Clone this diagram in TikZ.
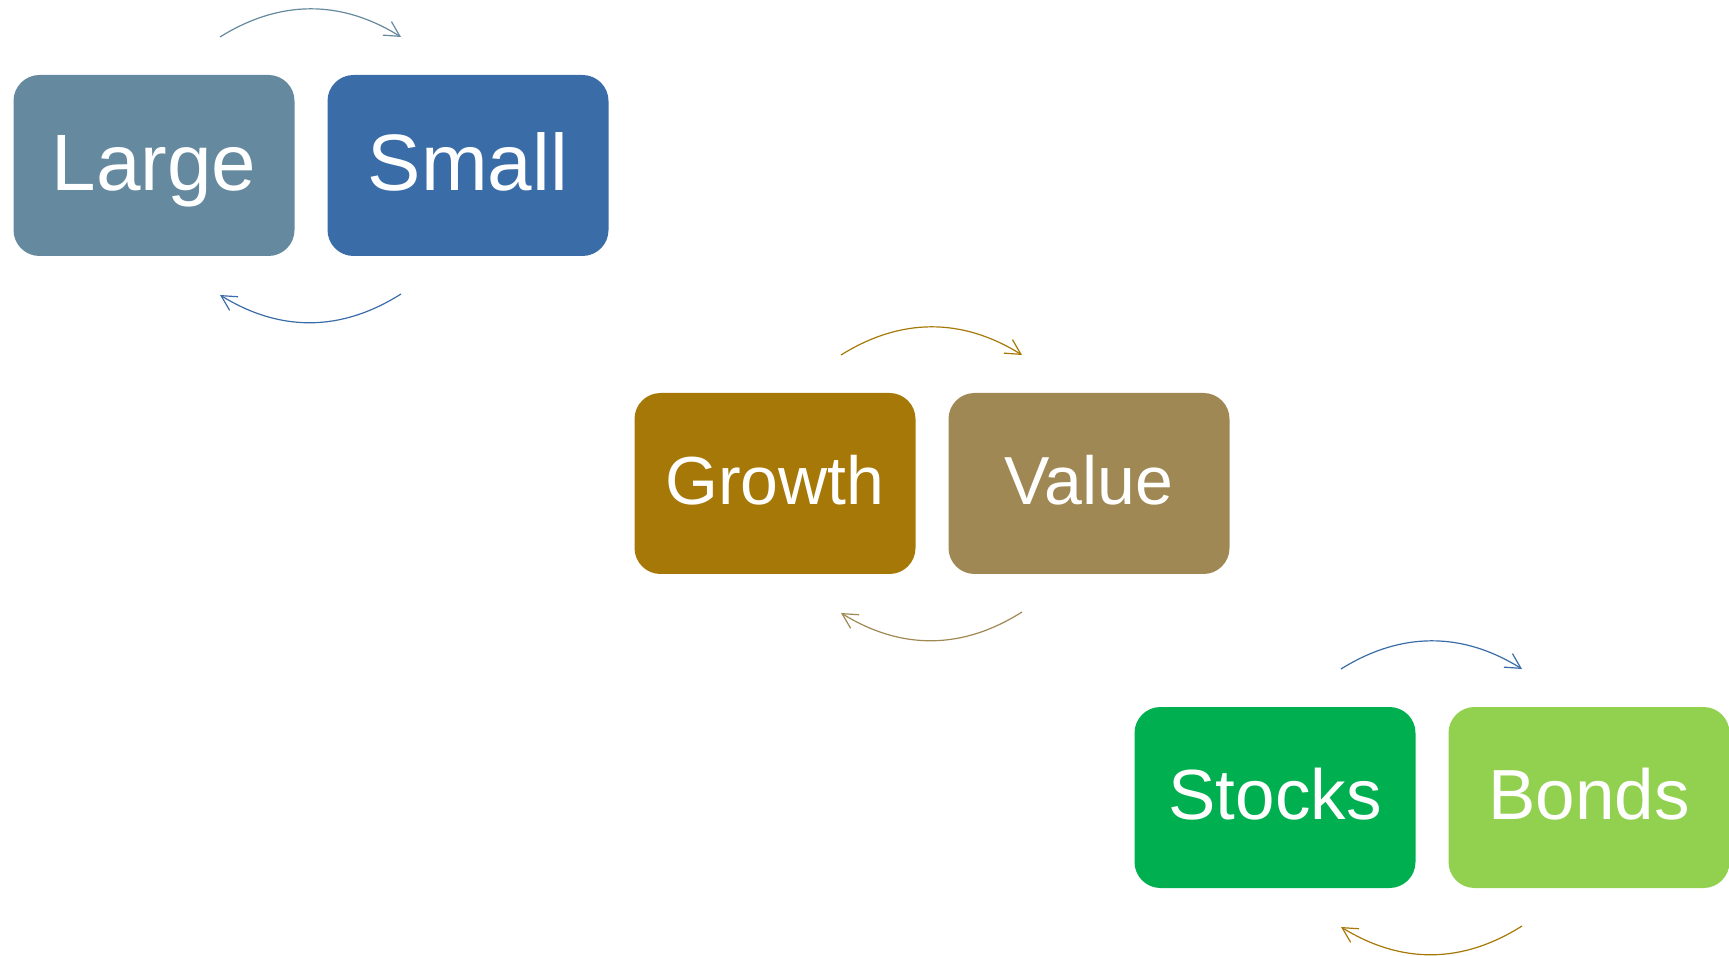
\documentclass[tikz,border=0pt]{standalone}
\usepackage{fontspec}
\setmainfont{Liberation Sans}
\usetikzlibrary{arrows.meta, positioning, shapes}

\definecolor{slate}{HTML}{65899E}
\definecolor{steel}{HTML}{3A6CA7}
\definecolor{ochre}{HTML}{A67808}
\definecolor{khaki}{HTML}{A08854}
\definecolor{leaf}{HTML}{00B050}
\definecolor{lime}{HTML}{92D050}

\begin{document}
\begin{tikzpicture}[x=0.5pt,y=0.5pt,node distance=16.5pt,line width=0.6pt,
	>={Straight Barb[length=7.5pt,width=8pt]}]

	\tikzset{node box/.style 2 args={rectangle, draw=none, rounded corners=13pt,
			minimum width=140.5pt, minimum height=90.5pt,
			inner sep=0pt, outer sep=0pt, text=white,
			font=\fontsize{#1}{#1}\selectfont,
			text height=#2, text depth=0pt}}
	\tikzset{node swap/.style={->, bend left=32}}

	\useasboundingbox (0,0) rectangle (1729,-956);

	\node[node box={40}{25pt}, fill=slate] (L) at (154,-165.5) {Large};
	\node[node box={40}{25pt}, fill=steel, right=of L] (S) {Small};
	\node[node box={34}{21.5pt}, fill=ochre] (G) at (775,-483.5) {Growth};
	\node[node box={34}{21.5pt}, fill=khaki, right=of G] (V) {Value};
	\node[node box={35.5}{22pt}, fill=leaf] (St) at (1275,-797.5) {Stocks};
	\node[node box={35.5}{22pt}, fill=lime, right=of St] (B) {Bonds};

	% arcs over and under each pair
	\foreach \a/\b/\ctop/\cbot in {L/S/slate/steel, G/V/ochre/khaki, St/B/steel/ochre} {
		\coordinate (\a-top) at ([shift={(66,38)}]\a.north);
		\coordinate (\b-top) at ([shift={(-67,38)}]\b.north);
		\coordinate (\a-bot) at ([shift={(66,-39)}]\a.south);
		\coordinate (\b-bot) at ([shift={(-67,-38)}]\b.south);
		\draw[node swap, draw=\ctop] (\a-top) to (\b-top);
		\draw[node swap, draw=\cbot] (\b-bot) to (\a-bot);
	}
\end{tikzpicture}
\end{document}
